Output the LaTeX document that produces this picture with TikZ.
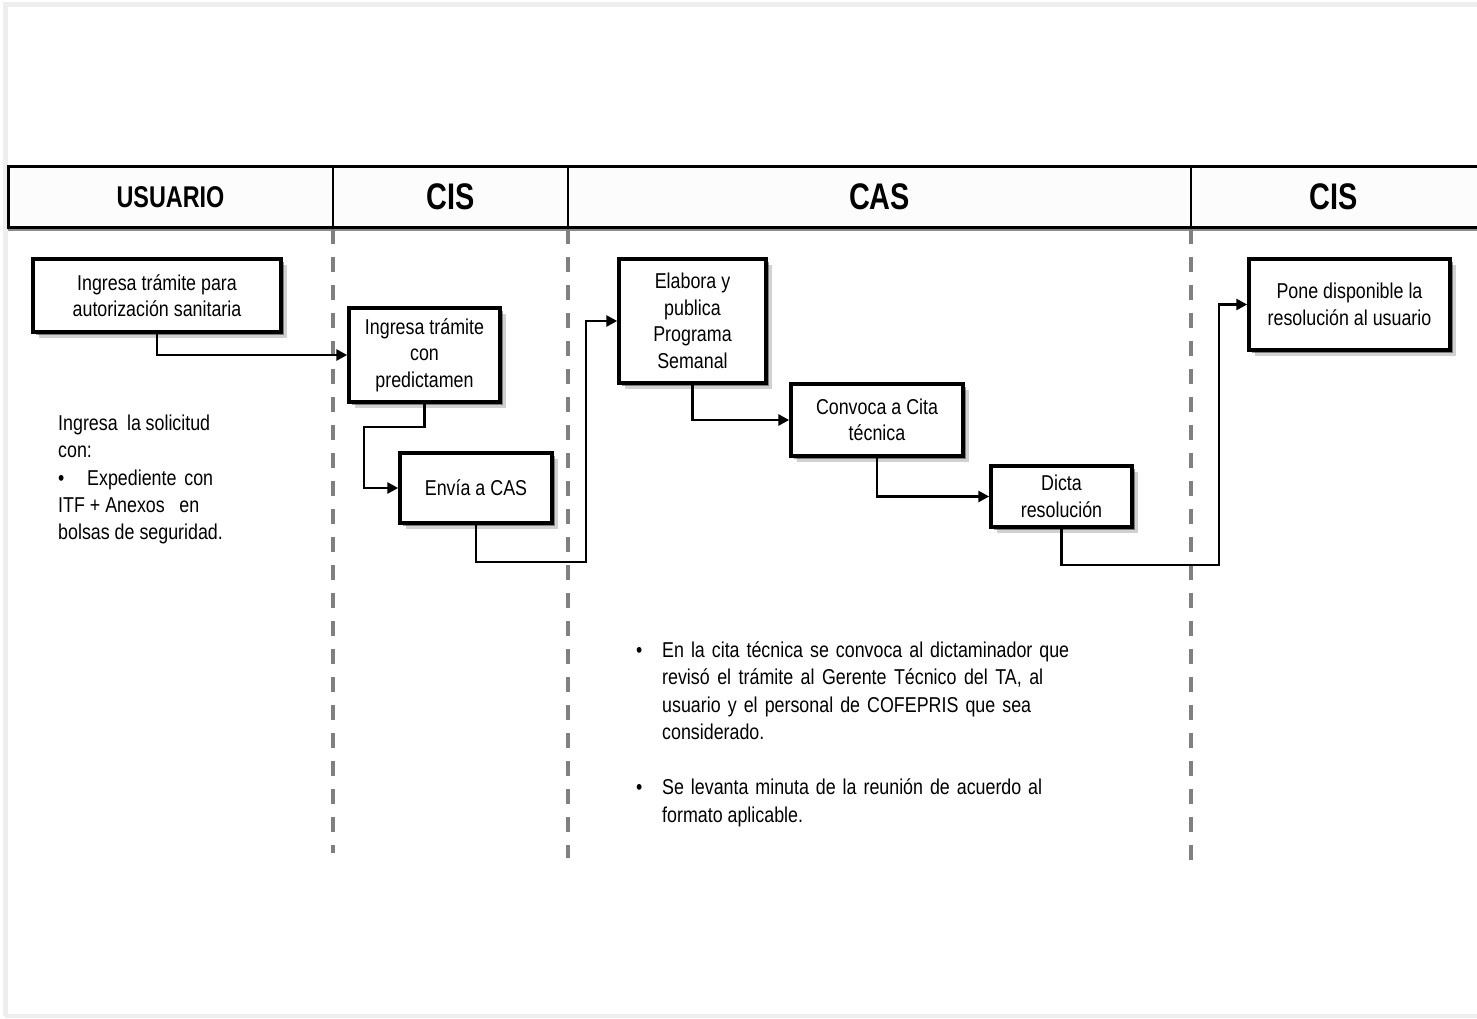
\documentclass[tikz,border=0pt]{standalone}
\usepackage{fontspec}
\setmainfont{Liberation Sans}[FakeStretch=0.83]
\newfontfamily\hdrfont{Liberation Sans}[FakeStretch=0.78]
\usetikzlibrary{arrows.meta,shadows}
\definecolor{framegray}{HTML}{EEEEEE}
\definecolor{dashgray}{HTML}{808080}
\definecolor{hdrfill}{HTML}{FCFCFC}
\begin{document}
\begin{tikzpicture}[x=1pt,y=-1pt,
  stepbox/.style={draw=black, line width=3.5pt, fill=white, rectangle, inner sep=0pt,
    align=center, font=\fontsize{21.5}{26.5}\selectfont,
    drop shadow={shadow xshift=3pt, shadow yshift=-3pt, fill=black, opacity=0.4},
    drop shadow={shadow xshift=6pt, shadow yshift=-6pt, fill=black, opacity=0.18}},
  conn/.style={draw=black, line width=2.8pt, -{Triangle[length=11pt,width=11pt]}},
  lane/.style={draw=dashgray, line width=4pt, dash pattern=on 15pt off 13pt},
  hdr/.style={inner sep=0pt, font=\hdrfont\bfseries\fontsize{37}{40}\selectfont},
  hdrsmall/.style={inner sep=0pt, font=\hdrfont\bfseries\fontsize{30}{34}\selectfont},
  ftext/.style={anchor=base west, inner sep=0pt, font=\fontsize{21.5}{27}\selectfont}]

\useasboundingbox (0,0) rectangle (1477,1018);
\fill[white] (0,0) rectangle (1477,1018);

% outer light frame
\draw[framegray, line width=5pt] (5,1016) -- (5,4.5) -- (1485,4.5);
\draw[framegray, line width=4pt] (5,1016) -- (1485,1016);

% header band
\fill[hdrfill] (8,166) rectangle (1485,227);
\draw[black!45, line width=2pt] (8,229.5) -- (1485,229.5);
\draw[line width=3pt] (1485,166) -- (8,166) -- (8,227) -- (1485,227);
\draw[line width=2pt] (333,166) -- (333,227);
\draw[line width=2pt] (568,166) -- (568,227);
\draw[line width=2pt] (1191,166) -- (1191,227);

\node[hdrsmall] (hU) at (170.5,197) {USUARIO};
\node[hdr] (hC1) at (450.5,197) {CIS};
\node[hdr] (hA) at (879.5,197) {CAS};
\node[hdr] (hC2) at (1334,197) {CIS};

% swimlane separators
\draw[lane] (333,229) -- (333,853);
\draw[lane] (568,229) -- (568,858);
\draw[lane] (1191,229) -- (1191,871);

% process boxes
\node[stepbox, minimum width=248pt, minimum height=73pt] (b1) at (157,295.5)
  {Ingresa trámite para\\autorización sanitaria};
\node[stepbox, minimum width=151pt, minimum height=94pt] (b2) at (424.5,355)
  {Ingresa trámite\\con\\predictamen};
\node[stepbox, minimum width=152pt, minimum height=70pt] (b3) at (476,488)
  {Envía a CAS};
\node[stepbox, minimum width=147pt, minimum height=124pt] (b4) at (692.5,321)
  {Elabora y\\publica\\Programa\\Semanal};
\node[stepbox, minimum width=172pt, minimum height=72pt] (b5) at (877,420)
  {Convoca a Cita\\técnica};
\node[stepbox, minimum width=141pt, minimum height=61pt] (b6) at (1061.5,496.5)
  {Dicta\\resolución};
\node[stepbox, minimum width=201pt, minimum height=91pt] (b7) at (1349.5,304.5)
  {Pone disponible la\\resolución al usuario};

% bend points
\coordinate (k2) at (364,427);
\coordinate (k3) at (586,562);
\coordinate (k6) at (1219,565);

% connectors
\draw[conn] (b1.south) |- (b2.west);
\draw[conn] (b2.south) |- (k2) |- (b3.west);
\draw[conn] (b3.south) |- (k3) |- (b4.west);
\draw[conn] (b4.south) |- (b5.west);
\draw[conn] (b5.south) |- (b6.west);
\draw[conn] (b6.south) |- (k6) |- (b7.west);

% left note
\node[ftext] (l1) at (58,430) {\hbox to 152pt{Ingresa\ \ la solicitud}};
\node[ftext] (l2) at (58,457) {con:};
\node[ftext] (l3) at (58,485) {\hbox to 155pt{\hbox to 29pt{•\hss}Expediente\hfil\ con}};
\node[ftext] (l4) at (58,512) {\hbox to 141pt{ITF + Anexos\hfil\ en}};
\node[ftext] (l5) at (58,539) {bolsas de seguridad.};

% CAS notes
\node[ftext] (d1) at (636,657) {•};
\node[ftext] (t1) at (662,657) {\hbox to 407pt{En la cita técnica se convoca al dictaminador que}};
\node[ftext] (t2) at (662,684.5) {\hbox to 381pt{revisó el trámite al Gerente Técnico del TA, al}};
\node[ftext] (t3) at (662,712) {\hbox to 369pt{usuario y el personal de COFEPRIS que sea}};
\node[ftext] (t4) at (662,739.5) {considerado.};
\node[ftext] (d2) at (636,794.5) {•};
\node[ftext] (t5) at (662,794.5) {\hbox to 380pt{Se levanta minuta de la reunión de acuerdo al}};
\node[ftext] (t6) at (662,822) {formato aplicable.};

\end{tikzpicture}
\end{document}
